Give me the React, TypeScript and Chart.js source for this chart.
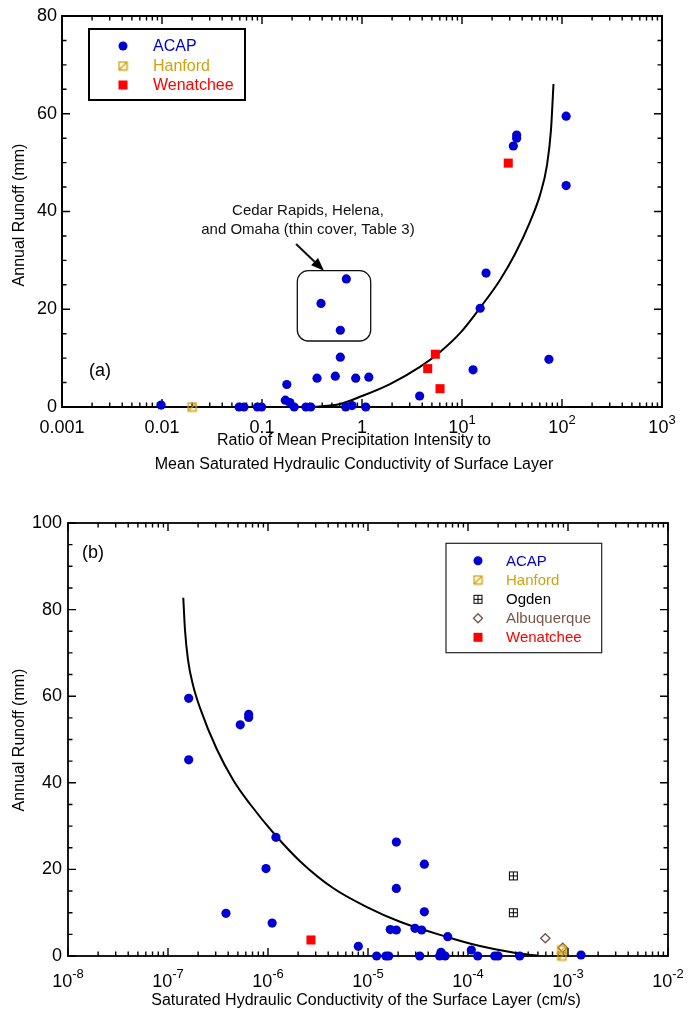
import React, { useEffect, useRef } from "react";
import { Chart, registerables } from "chart.js";

Chart.register(...registerables);

const FONT = "'Liberation Sans', Arial, Helvetica, sans-serif";
const BLUE = "#0000d2";
const GOLD = "#d2a20c";
const RED = "#ff0000";
const BROWN = "#7a5548";
const BLACK = "#000000";

// ---------------- Panel (a) data ----------------
const topAcapX = [0.0098, 0.059, 0.066, 0.09, 0.099, 0.171, 0.19, 0.21, 0.177, 0.275, 0.307, 0.355, 0.541, 0.607, 0.865, 1.17, 0.687, 0.794, 1.09, 3.77, 0.389, 0.697, 0.607, 110, 35.2, 35.2, 32.6, 110, 17.4, 15.2, 74, 12.9];
const topAcapY = [0.4, 0, 0, 0, 0, 1.4, 0.9, 0, 4.6, 0, 0, 5.9, 6.3, 10.2, 5.9, 6.1, 0, 0.3, 0, 2.25, 21.2, 26.2, 15.7, 59.5, 55.65, 55.0, 53.4, 45.3, 27.4, 20.2, 9.75, 7.6];
const topHanfordX = [0.02];
const topHanfordY = [0];
const topWenX = [29.0, 5.41, 4.54, 6.03];
const topWenY = [49.9, 10.8, 7.85, 3.75];
const topCurveX = [0.324, 0.603, 1.0, 1.905, 3.8, 6.03, 9.55, 15.1, 24.0, 33.9, 47.9, 60.3, 70.8, 77.6, 82.2];
const topCurveY = [0, 0.61, 2.25, 4.7, 8.2, 11.25, 15.1, 20.25, 26.0, 31.3, 37.9, 43.4, 49.5, 56.7, 66.1];

const topXTickValues = [0.001, 0.01, 0.1, 1, 10, 100, 1000];
const topXTickLabels = ["0.001", "0.01", "0.1", "1", "10^1", "10^2", "10^3"];
const topYTickValues = [0, 20, 40, 60, 80];
const topLegendLabels = ["ACAP", "Hanford", "Wenatchee"];

// ---------------- Panel (b) data ----------------
const botAcapX = [1.61e-7, 1.61e-7, 5.28e-7, 6.41e-7, 6.41e-7, 1.2e-6, 9.55e-7, 3.8e-7, 1.1e-6, 8.0e-6, 1.92e-5, 3.66e-5, 1.92e-5, 3.66e-5, 1.67e-5, 1.92e-5, 2.95e-5, 3.44e-5, 1.22e-5, 1.51e-5, 1.61e-5, 3.29e-5, 5.37e-5, 6.27e-5, 1.08e-4, 5.2e-5, 5.9e-5, 1.25e-4, 1.85e-4, 2.0e-4, 3.29e-4, 1.35e-3];
const botAcapY = [59.5, 45.3, 53.4, 55.8, 55.1, 27.4, 20.2, 9.85, 7.6, 2.24, 26.3, 21.2, 15.6, 10.2, 6.1, 6.0, 6.4, 6.0, 0, 0, 0, 0, 0.85, 4.46, 1.39, 0, 0, 0, 0, 0, 0, 0.23];
const botHanfordX = [8.7e-4, 8.7e-4];
const botHanfordY = [1.4, 0];
const botOgdenX = [2.84e-4, 2.84e-4];
const botOgdenY = [18.5, 10.0];
const botAlbX = [5.93e-4, 8.85e-4];
const botAlbY = [4.1, 1.9];
const botWenX = [2.69e-6];
const botWenY = [3.7];
const botCurveX = [1.422e-7, 1.479e-7, 1.585e-7, 1.778e-7, 2.089e-7, 3.069e-7, 4.498e-7, 6.607e-7, 1.175e-6, 2.089e-6, 4.467e-6, 9.772e-6, 2.089e-5, 6.166e-5, 1.318e-4, 2.818e-4, 4.898e-4];
const botCurveY = [82.75, 75.3, 68.4, 62.6, 57.3, 47.8, 40.6, 35.1, 28.0, 21.9, 15.7, 11.3, 7.9, 4.4, 2.3, 0.8, 0.1];

const botXTickValues = [1e-8, 1e-7, 1e-6, 1e-5, 1e-4, 1e-3, 1e-2];
const botXTickLabels = ["10^-8", "10^-7", "10^-6", "10^-5", "10^-4", "10^-3", "10^-2"];
const botYTickValues = [0, 20, 40, 60, 80, 100];
const botLegendLabels = ["ACAP", "Hanford", "Ogden", "Albuquerque", "Wenatchee"];

// ---------------- marker canvases ----------------
function makeHanford(): HTMLCanvasElement {
  const c = document.createElement("canvas");
  c.width = 11;
  c.height = 11;
  const g = c.getContext("2d")!;
  g.strokeStyle = GOLD;
  g.lineWidth = 1.4;
  g.strokeRect(1.5, 1.5, 8, 8);
  g.beginPath();
  g.moveTo(1.5, 9.5);
  g.lineTo(9.5, 1.5);
  g.stroke();
  return c;
}
function makeOgden(): HTMLCanvasElement {
  const c = document.createElement("canvas");
  c.width = 11;
  c.height = 11;
  const g = c.getContext("2d")!;
  g.strokeStyle = BLACK;
  g.lineWidth = 1;
  g.strokeRect(1.5, 1.5, 8, 8);
  g.beginPath();
  g.moveTo(5.5, 1.5);
  g.lineTo(5.5, 9.5);
  g.moveTo(1.5, 5.5);
  g.lineTo(9.5, 5.5);
  g.stroke();
  return c;
}

const pts = (xs: number[], ys: number[]) => xs.map((x, i) => ({ x, y: ys[i] }));

function drawMarker(ctx: CanvasRenderingContext2D, kind: string, x: number, y: number, imgs: any) {
  ctx.save();
  if (kind === "circle") {
    ctx.fillStyle = BLUE;
    ctx.beginPath();
    ctx.arc(x, y, 4.5, 0, Math.PI * 2);
    ctx.fill();
  } else if (kind === "square") {
    ctx.fillStyle = RED;
    ctx.fillRect(x - 4.5, y - 4.5, 9, 9);
  } else if (kind === "hanford") {
    ctx.drawImage(imgs.hanford, x - 5.5, y - 5.5);
  } else if (kind === "ogden") {
    ctx.drawImage(imgs.ogden, x - 5.5, y - 5.5);
  } else if (kind === "diamond") {
    ctx.strokeStyle = BROWN;
    ctx.lineWidth = 1.4;
    ctx.beginPath();
    ctx.moveTo(x, y - 4.5);
    ctx.lineTo(x + 4.5, y);
    ctx.lineTo(x, y + 4.5);
    ctx.lineTo(x - 4.5, y);
    ctx.closePath();
    ctx.stroke();
  }
  ctx.restore();
}

function drawLogLabel(ctx: CanvasRenderingContext2D, text: string, cx: number, cy: number) {
  const [base, exp] = text.split("^");
  ctx.font = `18px ${FONT}`;
  const wb = ctx.measureText(base).width;
  let we = 0;
  if (exp) {
    ctx.font = `13px ${FONT}`;
    we = ctx.measureText(exp).width;
  }
  const start = cx - (wb + we) / 2;
  ctx.textAlign = "left";
  ctx.textBaseline = "middle";
  ctx.fillStyle = BLACK;
  ctx.font = `18px ${FONT}`;
  ctx.fillText(base, start, cy);
  if (exp) {
    ctx.font = `13px ${FONT}`;
    ctx.fillText(exp, start + wb, cy - 8);
  }
}

function decorPlugin(spec: any, imgs: any) {
  return {
    id: "decor",
    beforeDatasetsDraw(chart: any) {
      const ctx: CanvasRenderingContext2D = chart.ctx;
      const { left, right, top, bottom } = chart.chartArea;
      const xs = chart.scales.x;
      const ys = chart.scales.y;
      ctx.save();
      ctx.strokeStyle = BLACK;
      ctx.lineWidth = spec.frameWidth;
      ctx.strokeRect(left, top, right - left, bottom - top);
      ctx.lineWidth = 1.4;
      ctx.beginPath();
      const xv = spec.xTickValues;
      for (let i = 0; i < xv.length; i++) {
        const maxM = i === xv.length - 1 ? 1 : 9;
        for (let m = 1; m <= maxM; m++) {
          const px = xs.getPixelForValue(xv[i] * m);
          const len = m === 1 ? 8 : 4.5;
          ctx.moveTo(px, bottom);
          ctx.lineTo(px, bottom - len);
          ctx.moveTo(px, top);
          ctx.lineTo(px, top + len);
        }
      }
      const yv = spec.yTickValues;
      const yMax = yv[yv.length - 1];
      for (let v = 0; v <= yMax + 0.001; v += spec.yMinorStep) {
        const py = ys.getPixelForValue(v);
        const major = yv.indexOf(v) >= 0;
        const len = major ? 8 : 4.5;
        ctx.moveTo(left, py);
        ctx.lineTo(left + len, py);
        ctx.moveTo(right, py);
        ctx.lineTo(right - len, py);
      }
      ctx.stroke();

      // tick labels
      ctx.fillStyle = BLACK;
      ctx.font = `18px ${FONT}`;
      ctx.textAlign = "right";
      ctx.textBaseline = "middle";
      for (const v of yv) {
        ctx.fillText(String(v), left - spec.yLabelGap, ys.getPixelForValue(v));
      }
      spec.xTickLabels.forEach((lab: string, i: number) => {
        drawLogLabel(ctx, lab, xs.getPixelForValue(xv[i]), bottom + spec.xLabelGap);
      });

      // axis titles
      ctx.font = `16px ${FONT}`;
      ctx.textAlign = "center";
      ctx.textBaseline = "middle";
      spec.xTitleLines.forEach((t: string, i: number) => {
        ctx.fillText(t, spec.xTitleX, spec.xTitleYs[i]);
      });
      ctx.save();
      ctx.translate(20, spec.yTitleY);
      ctx.rotate(-Math.PI / 2);
      ctx.fillText(spec.yTitle, 0, 0);
      ctx.restore();

      // panel label
      ctx.font = `18px ${FONT}`;
      ctx.fillText(spec.panelLabel, spec.panelPos[0], spec.panelPos[1]);

      if (spec.extra) spec.extra(chart, ctx);
      ctx.restore();
    },
    afterDatasetsDraw(chart: any) {
      const ctx: CanvasRenderingContext2D = chart.ctx;
      const L = spec.legend;
      ctx.save();
      ctx.fillStyle = "#ffffff";
      ctx.fillRect(L.box[0], L.box[1], L.box[2] - L.box[0], L.box[3] - L.box[1]);
      ctx.strokeStyle = L.stroke;
      ctx.lineWidth = L.lineWidth;
      ctx.strokeRect(L.box[0], L.box[1], L.box[2] - L.box[0], L.box[3] - L.box[1]);
      ctx.font = `${L.fontSize}px ${FONT}`;
      ctx.textAlign = "left";
      ctx.textBaseline = "middle";
      L.labels.forEach((lab: string, i: number) => {
        const y = L.rowYs[i];
        drawMarker(ctx, L.kinds[i], L.markerX, y, imgs);
        ctx.fillStyle = L.colors[i];
        ctx.fillText(lab, L.textX, y + 1);
      });
      ctx.restore();
    },
  };
}

function baseOptions(xmin: number, xmax: number, ymax: number, pad: any, yW: number, xH: number) {
  return {
    animation: false,
    responsive: false,
    maintainAspectRatio: false,
    devicePixelRatio: 1,
    events: [],
    layout: { padding: pad },
    plugins: { legend: { display: false }, tooltip: { enabled: false }, title: { display: false } },
    scales: {
      x: {
        type: "logarithmic",
        min: xmin,
        max: xmax,
        ticks: { display: false },
        grid: { display: false },
        border: { display: false },
        afterFit: (s: any) => {
          s.height = xH;
        },
      },
      y: {
        type: "linear",
        min: 0,
        max: ymax,
        ticks: { display: false },
        grid: { display: false },
        border: { display: false },
        afterFit: (s: any) => {
          s.width = yW;
        },
      },
    },
  };
}

export default function App() {
  const ref1 = useRef<HTMLCanvasElement>(null);
  const ref2 = useRef<HTMLCanvasElement>(null);

  useEffect(() => {
    const imgs = { hanford: makeHanford(), ogden: makeOgden() };

    const annotate = (chart: any, ctx: CanvasRenderingContext2D) => {
      const xs = chart.scales.x;
      const ys = chart.scales.y;
      const X = (v: number) => xs.getPixelForValue(v);
      const Y = (v: number) => ys.getPixelForValue(v);
      ctx.fillStyle = "#111";
      ctx.font = `15px ${FONT}`;
      ctx.textAlign = "center";
      ctx.textBaseline = "middle";
      ctx.fillText("Cedar Rapids, Helena,", X(0.288), Y(40.2));
      ctx.fillText("and Omaha (thin cover, Table 3)", X(0.288), Y(36.3));
      // rounded box
      const x0 = X(0.2254), x1 = X(1.222), y0 = Y(27.9), y1 = Y(13.5);
      const r = 11;
      ctx.strokeStyle = "#111";
      ctx.lineWidth = 1.3;
      ctx.beginPath();
      ctx.moveTo(x0 + r, y0);
      ctx.lineTo(x1 - r, y0);
      ctx.arcTo(x1, y0, x1, y0 + r, r);
      ctx.lineTo(x1, y1 - r);
      ctx.arcTo(x1, y1, x1 - r, y1, r);
      ctx.lineTo(x0 + r, y1);
      ctx.arcTo(x0, y1, x0, y1 - r, r);
      ctx.lineTo(x0, y0 + r);
      ctx.arcTo(x0, y0, x0 + r, y0, r);
      ctx.closePath();
      ctx.stroke();
      // arrow
      const ax0 = X(0.219), ay0 = Y(33.35), ax1 = X(0.417), ay1 = Y(27.9);
      const ang = Math.atan2(ay1 - ay0, ax1 - ax0);
      const hl = 13, hw = 5;
      const bx = ax1 - hl * Math.cos(ang), by = ay1 - hl * Math.sin(ang);
      ctx.lineWidth = 2;
      ctx.beginPath();
      ctx.moveTo(ax0, ay0);
      ctx.lineTo(bx, by);
      ctx.stroke();
      ctx.fillStyle = "#000";
      ctx.beginPath();
      ctx.moveTo(ax1, ay1);
      ctx.lineTo(bx + hw * Math.sin(ang), by - hw * Math.cos(ang));
      ctx.lineTo(bx - hw * Math.sin(ang), by + hw * Math.cos(ang));
      ctx.closePath();
      ctx.fill();
    };

    const specA = {
      frameWidth: 2,
      xTickValues: topXTickValues,
      xTickLabels: topXTickLabels,
      yTickValues: topYTickValues,
      yMinorStep: 5,
      yLabelGap: 5,
      xLabelGap: 21,
      xTitleLines: ["Ratio of Mean Precipitation Intensity to", "Mean Saturated Hydraulic Conductivity of Surface Layer"],
      xTitleX: 354,
      xTitleYs: [441, 465],
      yTitle: "Annual Runoff (mm)",
      yTitleY: 215,
      panelLabel: "(a)",
      panelPos: [100, 371],
      extra: annotate,
      legend: {
        box: [89, 29, 245, 100],
        stroke: BLACK,
        lineWidth: 2,
        fontSize: 16,
        markerX: 123,
        textX: 153,
        rowYs: [46, 66, 85],
        labels: topLegendLabels,
        kinds: ["circle", "hanford", "square"],
        colors: [BLUE, GOLD, RED],
      },
    };

    const specB = {
      frameWidth: 1.8,
      xTickValues: botXTickValues,
      xTickLabels: botXTickLabels,
      yTickValues: botYTickValues,
      yMinorStep: 5,
      yLabelGap: 6,
      xLabelGap: 26,
      xTitleLines: ["Saturated Hydraulic Conductivity of the Surface Layer (cm/s)"],
      xTitleX: 366,
      xTitleYs: [521],
      yTitle: "Annual Runoff (mm)",
      yTitleY: 260,
      panelLabel: "(b)",
      panelPos: [93, 73],
      legend: {
        box: [446, 63.3, 601.7, 172.7],
        stroke: "#222",
        lineWidth: 1.2,
        fontSize: 15,
        markerX: 478,
        textX: 506,
        rowYs: [80.7, 100, 119.3, 138.3, 157.3],
        labels: botLegendLabels,
        kinds: ["circle", "hanford", "ogden", "diamond", "square"],
        colors: [BLUE, GOLD, BLACK, BROWN, RED],
      },
    };

    const circleDs = (label: string, xs: number[], ys: number[]) => ({
      label,
      data: pts(xs, ys),
      pointStyle: "circle",
      pointRadius: 4.6,
      backgroundColor: BLUE,
      borderWidth: 0,
      clip: false,
    });
    const wenDs = (xs: number[], ys: number[]) => ({
      label: "Wenatchee",
      data: pts(xs, ys),
      pointStyle: "rect",
      pointRadius: 6.4,
      backgroundColor: RED,
      borderWidth: 0,
      clip: false,
    });
    const imgDs = (label: string, xs: number[], ys: number[], img: HTMLCanvasElement) => ({
      label,
      data: pts(xs, ys),
      pointStyle: img,
      pointRadius: 5,
      clip: false,
    });
    const curveDs = (xs: number[], ys: number[]) => ({
      label: "fit",
      data: pts(xs, ys),
      showLine: true,
      pointRadius: 0,
      borderColor: BLACK,
      borderWidth: 2,
      fill: false,
      cubicInterpolationMode: "monotone",
      clip: false,
    });

    const c1 = new Chart(ref1.current!, {
      type: "scatter",
      data: {
        datasets: [
          circleDs("ACAP", topAcapX, topAcapY),
          imgDs("Hanford", topHanfordX, topHanfordY, imgs.hanford),
          wenDs(topWenX, topWenY),
          curveDs(topCurveX, topCurveY),
        ],
      } as any,
      options: baseOptions(0.001, 1000, 80, { left: 0, top: 16, right: 31, bottom: 0 }, 62, 83) as any,
      plugins: [decorPlugin(specA, imgs)],
    });

    const c2 = new Chart(ref2.current!, {
      type: "scatter",
      data: {
        datasets: [
          circleDs("ACAP", botAcapX, botAcapY),
          imgDs("Hanford", botHanfordX, botHanfordY, imgs.hanford),
          imgDs("Ogden", botOgdenX, botOgdenY, imgs.ogden),
          {
            label: "Albuquerque",
            data: pts(botAlbX, botAlbY),
            pointStyle: "rectRot",
            pointRadius: 4.6,
            backgroundColor: "rgba(0,0,0,0)",
            borderColor: BROWN,
            borderWidth: 1.4,
            clip: false,
          },
          wenDs(botWenX, botWenY),
          curveDs(botCurveX, botCurveY),
        ],
      } as any,
      options: baseOptions(1e-8, 1e-2, 100, { left: 0, top: 43, right: 25, bottom: 0 }, 68, 59) as any,
      plugins: [decorPlugin(specB, imgs)],
    });

    return () => {
      c1.destroy();
      c2.destroy();
    };
  }, []);

  return (
    <div style={{ position: "absolute", left: 0, top: 0, width: 693, height: 1015, background: "#fff", overflow: "hidden" }}>
      <canvas ref={ref1} width={693} height={490} style={{ position: "absolute", left: 0, top: 0, display: "block" }} />
      <canvas ref={ref2} width={693} height={535} style={{ position: "absolute", left: 0, top: 480, display: "block" }} />
    </div>
  );
}
